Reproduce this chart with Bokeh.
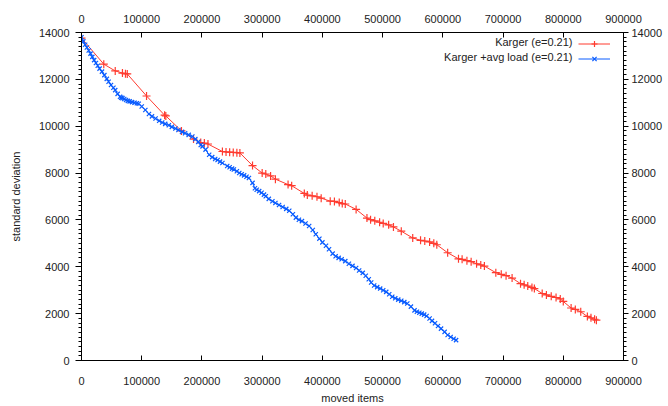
from bokeh.plotting import figure
from bokeh.models import (LinearAxis, Range1d, SingleIntervalTicker, BasicTickFormatter,
                          Legend, LegendItem, Label)
from bokeh.embed import file_html
from bokeh.resources import INLINE

# ---- data ----
series_names = ["Karger (e=0.21)", "Karger +avg load (e=0.21)"]

red_x = [0, 37000, 56000, 68000, 73000, 76000, 108000, 138000, 140000, 166000,
         186000, 198000, 204000, 210000, 234000, 240000, 246000, 252000, 258000, 263000,
         284000, 300000, 306000, 314000, 322000, 343000, 349000, 370000, 375000, 383000,
         391000, 398000, 413000, 420000, 428000, 433000, 438000, 456000, 474000, 480000,
         487000, 495000, 501000, 510000, 518000, 531000, 550000, 563000, 570000, 578000,
         585000, 590000, 608000, 626000, 632000, 640000, 647000, 656000, 663000, 669000,
         688000, 697000, 705000, 715000, 729000, 735000, 741000, 748000, 752000, 765000,
         772000, 780000, 788000, 795000, 800000, 813000, 820000, 829000, 840000, 846000,
         852000, 855000]
red_y = [13760, 12650, 12360, 12270, 12240, 12230, 11290, 10470, 10440, 9800,
         9450, 9300, 9280, 9240, 8920, 8900, 8890, 8880, 8870, 8860,
         8320, 8000, 7960, 7880, 7740, 7510, 7460, 7130, 7060, 7030,
         6990, 6930, 6800, 6790, 6740, 6700, 6680, 6450, 6080, 6010,
         5960, 5900, 5850, 5790, 5700, 5520, 5230, 5130, 5100, 5060,
         5000, 4940, 4600, 4340, 4320, 4260, 4220, 4130, 4080, 4030,
         3750, 3680, 3620, 3520, 3280, 3230, 3180, 3120, 3070, 2860,
         2800, 2740, 2690, 2630, 2520, 2240, 2180, 2080, 1880, 1820,
         1760, 1720]

blue_x = [0, 3000, 6000, 9000, 12000, 15000, 18000, 21000, 24000, 27000,
          30000, 34000, 38000, 42000, 45000, 49000, 53000, 56000, 60000, 64000,
          66000, 68000, 71000, 74000, 77000, 80000, 84000, 88000, 92000, 95000,
          100000, 106000, 112000, 117000, 123000, 129000, 134000, 139000, 145000, 150000,
          156000, 161000, 167000, 172000, 178000, 184000, 189000, 194000, 198000, 201000,
          206000, 212000, 217000, 222000, 226000, 230000, 234000, 242000, 246000, 250000,
          253000, 258000, 262000, 266000, 270000, 274000, 278000, 284000, 288000, 291000,
          295000, 299000, 303000, 306000, 311000, 317000, 322000, 328000, 334000, 340000,
          345000, 351000, 356000, 361000, 366000, 372000, 378000, 384000, 389000, 395000,
          400000, 406000, 411000, 417000, 422000, 427000, 432000, 438000, 444000, 450000,
          456000, 461000, 467000, 472000, 477000, 481000, 486000, 491000, 496000, 501000,
          506000, 511000, 516000, 521000, 526000, 531000, 536000, 541000, 547000, 553000,
          557000, 561000, 565000, 569000, 573000, 578000, 582000, 587000, 592000, 597000,
          603000, 608000, 613000, 618000, 622000]
blue_y = [13800, 13620, 13480, 13360, 13230, 13100, 12960, 12820, 12700, 12580,
          12460, 12330, 12180, 12020, 11900, 11760, 11640, 11540, 11380, 11260,
          11220, 11200, 11160, 11120, 11080, 11060, 11030, 11000, 10980, 10960,
          10840, 10690, 10520, 10420, 10330, 10230, 10160, 10100, 10040, 9970,
          9900, 9840, 9760, 9700, 9630, 9560, 9450, 9330, 9200, 9140,
          9000, 8780, 8680, 8600, 8560, 8490, 8430, 8300, 8250, 8190,
          8150, 8080, 8000, 7950, 7900, 7840, 7790, 7580, 7350, 7290,
          7230, 7160, 7080, 7010, 6900, 6800, 6720, 6640, 6550, 6470,
          6390, 6240, 6100, 6010, 5950, 5850, 5740, 5570, 5390, 5200,
          5040, 4900, 4750, 4560, 4450, 4380, 4320, 4240, 4130, 4040,
          3950, 3840, 3740, 3620, 3470, 3330, 3200, 3130, 3070, 3000,
          2930, 2830, 2720, 2660, 2600, 2550, 2490, 2430, 2300, 2140,
          2080, 2040, 2000, 1960, 1900, 1790, 1690, 1590, 1470, 1360,
          1220, 1090, 1000, 930, 870]

x_max = 900000
y_max = 14000
x_tick_step = 100000
y_tick_step = 2000

# ---- styling ----
RED = "#ff3b2f"
BLUE = "#0a5cff"
FONT = "Liberation Sans"
FS = "11px"
TXT = "#222222"

W, H = 668, 406
BL, BR, BT, BB = 81, 45, 32, 44

p = figure(width=W, height=H, output_backend="svg", toolbar_location=None,
           x_range=Range1d(0, x_max), y_range=Range1d(0, y_max),
           min_border_left=BL, min_border_right=BR, min_border_top=BT, min_border_bottom=BB,
           x_axis_location=None, y_axis_location=None)
p.xgrid.visible = False
p.ygrid.visible = False
p.outline_line_color = "black"
p.outline_line_width = 1
p.background_fill_color = "white"
p.border_fill_color = "white"

xt = SingleIntervalTicker(interval=x_tick_step, num_minor_ticks=0)
yt = SingleIntervalTicker(interval=y_tick_step, num_minor_ticks=10)
fmt = BasicTickFormatter(use_scientific=False)


def style_axis(ax, vertical):
    ax.ticker = yt if vertical else xt
    ax.formatter = fmt
    ax.axis_line_color = "black"
    ax.axis_line_width = 1
    ax.major_tick_line_color = "black"
    ax.minor_tick_line_color = "black"
    if vertical:
        ax.major_tick_in = 0
        ax.major_tick_out = 6
        ax.minor_tick_in = 0
        ax.minor_tick_out = 3
    else:
        ax.major_tick_in = 5
        ax.major_tick_out = 0
        ax.minor_tick_in = 0
        ax.minor_tick_out = 0
    ax.major_label_text_font = FONT
    ax.major_label_text_font_size = FS
    ax.major_label_text_color = TXT
    ax.axis_label_text_font = FONT
    ax.axis_label_text_font_size = FS
    ax.axis_label_text_font_style = "normal"
    ax.axis_label_text_color = TXT


bottom = LinearAxis(axis_label="moved items")
style_axis(bottom, False)
bottom.major_label_standoff = 16
bottom.axis_label_standoff = 4
p.add_layout(bottom, "below")

top = LinearAxis()
style_axis(top, False)
top.major_label_standoff = 10
p.add_layout(top, "above")

left = LinearAxis(axis_label="standard deviation")
style_axis(left, True)
left.major_label_standoff = 6
left.axis_label_standoff = 14
p.add_layout(left, "left")

right = LinearAxis()
style_axis(right, True)
right.major_tick_out = 5
right.major_label_standoff = 3
p.add_layout(right, "right")

# ---- series ----
r1l = p.line(red_x, red_y, line_color=RED, line_width=1)
r1m = p.scatter(red_x, red_y, marker="cross", size=8, line_color=RED, line_width=1.2)
r2l = p.line(blue_x, blue_y, line_color=BLUE, line_width=1)
r2m = p.scatter(blue_x, blue_y, marker="x", size=6, line_color=BLUE, line_width=1.2)

# ---- legend: samples on the right, right-aligned text on their left ----
LEG_MARGIN, LEG_LABEL_W, LEG_GLYPH_W, LEG_ROW = 4, 9, 32, 15
legend = Legend(items=[LegendItem(label=" ", renderers=[r1l, r1m]),
                       LegendItem(label=" ", renderers=[r2l, r2m])],
                location="top_right", margin=LEG_MARGIN, padding=0, spacing=0,
                glyph_width=LEG_GLYPH_W, glyph_height=LEG_ROW,
                label_width=LEG_LABEL_W, label_height=LEG_ROW,
                label_standoff=0, label_text_font_size="1px",
                border_line_alpha=0, background_fill_alpha=0)
p.add_layout(legend)

frame_w = W - BL - BR
frame_h = H - BT - BB
text_right = frame_w - LEG_MARGIN - LEG_LABEL_W - LEG_GLYPH_W - 6
for i, name in enumerate(series_names):
    p.add_layout(Label(x=text_right, y=frame_h - LEG_MARGIN - LEG_ROW / 2 - LEG_ROW * i,
                       x_units="screen", y_units="screen", text=name,
                       text_align="right", text_baseline="middle",
                       text_font=FONT, text_font_size=FS, text_color=TXT))

open("out.html", "w").write(file_html(p, INLINE))
